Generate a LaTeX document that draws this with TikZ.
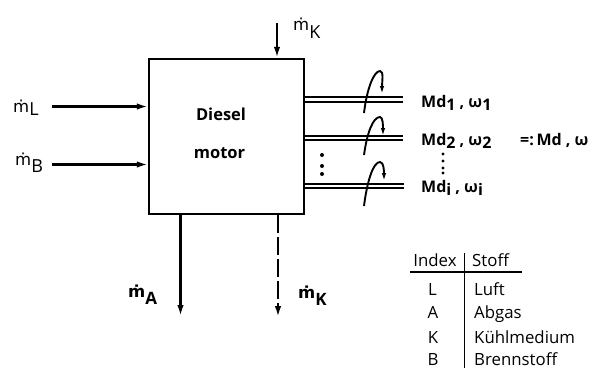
\documentclass[tikz,border=0pt]{standalone}
\usepackage{fontspec}
\setmainfont{Open Sans}
\newfontfamily\dvs{DejaVu Sans}
\usetikzlibrary{arrows.meta}
\tikzset{
  x=1pt,y=-1pt,
  flow/.style={line width=2.2pt,-{Latex[length=11pt,width=6.5pt]}},
  flowdash/.style={flow,dash pattern=on 18pt off 4pt},
  shaft/.style={line width=1.7pt},
  twist/.style={line width=1.9pt,-{Latex[length=8pt,width=4.5pt]}},
  lab/.style={inner sep=0pt,anchor=base west,font=\fontsize{18}{20}\selectfont},
  blab/.style={inner sep=0pt,anchor=base west,font=\fontsize{16}{18}\selectfont\bfseries},
  tab/.style={inner sep=0pt,anchor=base,font=\fontsize{16.8}{19}\selectfont},
  tabl/.style={tab,anchor=base west},
  pt/.style={circle,fill=black,inner sep=0pt,minimum size=4pt},
}
\newcommand{\mdotx}[2]{{\dvs\fontsize{16.5}{18}\selectfont ṁ}\raisebox{-#1pt}{#2}}
\newcommand{\lowr}[1]{\raisebox{-3.5pt}{#1}}
\begin{document}
\begin{tikzpicture}
\useasboundingbox (0,0) rectangle (601,368);
\node[draw,line width=2.4pt,minimum width=155pt,minimum height=155pt,inner sep=0pt] (box) at (226.5,136.5) {};
\node[inner sep=0pt,font=\fontsize{16.5}{18}\selectfont\bfseries] (d) at (221,114) {Diesel};
\node[inner sep=0pt,font=\fontsize{16.5}{18}\selectfont\bfseries] (e) at (219.5,153) {motor};
% inputs
\node[lab] (mL) at (13,112) {\mdotx{3}{L}};
\node[lab] (mB) at (15,165) {\mdotx{7}{B}};
\node[lab] (mK1) at (293,30) {\mdotx{8}{K}};
\node[lab,font=\fontsize{17}{20}\selectfont\bfseries] (mA) at (128,297) {\mdotx{7}{A}};
\node[lab,font=\fontsize{17}{20}\selectfont\bfseries] (mK2) at (298,298) {\mdotx{7}{K}};
\coordinate (iL) at (52,106.5);
\coordinate (iB) at (52,164.5);
\coordinate (iK) at (277,23);
\coordinate (oA) at (180.5,316);
\coordinate (oK) at (278,317);
\draw[flow] (iL) -- (iL -| box.west);
\draw[flow] (iB) -- (iB -| box.west);
\draw[flow] (iK) -- (iK |- box.north);
\draw[flow] (oA |- box.south) -- (oA);
\draw[flowdash] (oK |- box.south) -- (oK);
% shafts
\node[blab] (t1) at (421,107) {Md\lowr{1} , ω\lowr{1}};
\node[blab] (t2) at (421,145) {Md\lowr{2} , ω\lowr{2}};
\node[blab] (t3) at (421,192) {Md\lowr{i} , ω\lowr{i}};
\node[blab] (t4) at (520,145) {=:\,Md , ω};
\coordinate (s1) at (403,99.5);
\coordinate (s2) at (403,138);
\coordinate (s3) at (404,186);
\foreach \s in {s1,s2,s3}{
  \draw[shaft] ([yshift=-2.3pt]\s) -- ([yshift=-2.3pt]\s -| box.east);
  \draw[shaft] ([yshift=2.3pt]\s) -- ([yshift=2.3pt]\s -| box.east);
}
\draw[twist] (364,113) .. controls (367,88) and (374,71) .. (380,71) .. controls (384,71) and (382,82) .. (382,94);
\draw[twist] (364,155) .. controls (367,133) and (373,117) .. (380,117) .. controls (383,117) and (383,126) .. (383,136);
\draw[twist] (364,206) .. controls (367,182) and (373,162) .. (380,162) .. controls (384,162) and (384,172) .. (384,181);
% dots
\node[pt] (a1) at (322,155) {};
\node[pt] (a2) at (322,166) {};
\node[pt] (a3) at (322,174) {};
\node[pt,minimum size=3.4pt] (b1) at (443,154) {};
\node[pt,minimum size=3.4pt] (b2) at (443,161) {};
\node[pt,minimum size=3.4pt] (b3) at (443,168) {};
\node[pt,minimum size=3.4pt] (b4) at (443,173) {};
% table
\node[tab] (h1) at (435,266) {Index};
\node[tabl] (h2) at (472,266) {Stoff};
\node[tab] (l1) at (432.5,295) {L};
\node[tabl] (v1) at (474,295) {Luft};
\node[tab] (l2) at (433,318) {A};
\node[tabl] (v2) at (474,318) {Abgas};
\node[tab] (l3) at (433,343) {K};
\node[tabl] (v3) at (474,343) {Kühlmedium};
\node[tab] (l4) at (433,365) {B};
\node[tabl] (v4) at (474,365) {Brennstoff};
\coordinate (r1) at (410,272);
\coordinate (r2) at (522,272);
\coordinate (c1) at (464.5,253);
\coordinate (c2) at (464.5,368);
\draw[line width=1.6pt] (r1) -- (r2);
\draw[line width=1.6pt] (c1) -- (c2);
\end{tikzpicture}
\end{document}
